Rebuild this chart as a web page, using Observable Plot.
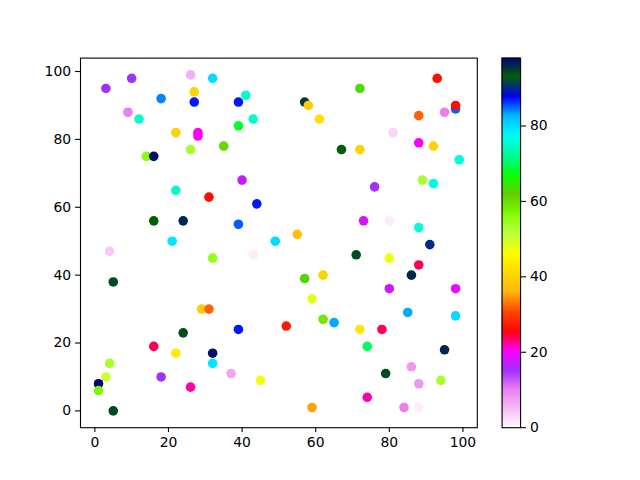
<!DOCTYPE html>
<html><head><meta charset="utf-8">
<script src="https://cdn.jsdelivr.net/npm/d3@7"></script>
<script src="https://cdn.jsdelivr.net/npm/@observablehq/plot@0.6"></script>
<style>
body{margin:0;background:#fff}
#fig{position:relative;width:640px;height:480px;background:#fff}
#fig svg{position:absolute;left:0;top:0}
</style>
</head><body><div id="fig"></div>
<script>
// Data (x, y, colour value)
const xs = [3,10,26,32,93,72,41,27,18,27,39,57,58,98,98,95,9,88,12,43,61,39,22,28,28,81,88,92,35,26,67,72,14,16,99,89,40,92,76,22,31,44,16,24,73,80,39,88,55,21,49,91,4,43,71,32,80,88,57,62,86,5,80,98,59,29,31,85,98,62,65,52,39,72,78,24,16,74,22,32,95,4,32,86,79,3,18,37,45,94,1,26,88,1,74,5,59,84,88];
const ys = [95,98,99,98,98,95,93,94,92,91,91,91,90,89,90,88,88,87,86,86,86,84,82,82,81,82,79,78,78,77,77,77,75,75,74,68,68,67,66,65,63,61,56,56,56,56,55,54,52,50,50,49,47,46,46,45,45,43,39,40,40,38,36,36,33,30,30,29,28,27,26,25,24,24,24,23,19,19,17,17,18,14,14,13,11,10,10,11,9,9,8,7,8,6,4,0,1,1,1];
const cs = [15,15,6,80,26,63,75,40,84,87,87,95,39,85,26,10,10,32,75,75,42,68,40,20,20,3,20,40,61,53,93,40,56,97,76,53,17,76,15,75,26,87,93,96,18,1,85,76,37,79,80,90,4,1,94,55,47,24,63,40,96,94,17,19,48,39,32,83,80,59,83,27,87,43,24,94,24,70,44,97,96,53,79,8,94,50,15,7,47,53,98,22,8,57,22,94,35,10,1];
const xTicks = [0,20,40,60,80,100];
const yTicks = [0,20,40,60,80,100];
const cTicks = [0,20,40,60,80];
const cMax = 98;

const data = xs.map((x,i)=>({x, y: ys[i], c: cs[i]}));

// matplotlib gist_ncar segment data (reversed for gist_ncar_r)
const R = [[0,0],[0.3098,0],[0.3725,0.3993],[0.4235,0.5003],[0.5333,1],[0.7922,1],[0.8471,0.6218],[0.8980,0.9235],[1,0.9961]];
const G = [[0,0],[0.0510,0.3722],[0.1059,0],[0.1569,0.7202],[0.1608,0.7537],[0.1647,0.7752],[0.2157,1],[0.2588,0.9804],[0.2706,0.9804],[0.3176,1],[0.3686,0.8081],[0.4275,1],[0.5216,1],[0.6314,0.7292],[0.6863,0.2796],[0.7451,0],[0.7922,0],[0.8431,0.1753],[0.8980,0.5],[1,0.9725]];
const B = [[0,0.502],[0.0510,0.0222],[0.1098,1],[0.2039,1],[0.2627,0.6145],[0.3216,0],[0.4157,0],[0.4745,0.2342],[0.5333,0],[0.5804,0],[0.6314,0.0549],[0.6902,0],[0.7373,0],[0.7922,0.9738],[0.8,1],[0.8431,1],[0.8980,0.9341],[1,0.9961]];
function lin(p,t){for(let i=1;i<p.length;i++){if(t<=p[i][0]){const [x0,y0]=p[i-1],[x1,y1]=p[i];return y0+(y1-y0)*(t-x0)/(x1-x0);}}return p[p.length-1][1];}
function gistNcarR(t){const u=1-Math.max(0,Math.min(1,t));return d3.rgb(255*lin(R,u),255*lin(G,u),255*lin(B,u)).formatHex();}

const colorScale = {type:"linear", domain:[0,cMax], interpolate: gistNcarR};
const font = {fontFamily:"DejaVu Sans", fontSize:"13.9px", color:"black"};

const main = Plot.plot({
  width:640, height:480,
  marginLeft:80, marginRight:163.2, marginTop:57.6, marginBottom:52.8,
  style:{...font, background:"white"},
  x:{domain:[-3.9,103.9]},
  y:{domain:[-4.95,103.95]},
  color: colorScale,
  marks:[
    Plot.dot(data,{x:"x", y:"y", fill:"c", r:4.8, stroke:null}),
    Plot.frame({stroke:"black", strokeWidth:1.1}),
    Plot.axisX({ticks:xTicks, tickSize:4.9, tickPadding:4.5, label:null, strokeWidth:1.1}),
    Plot.axisY({ticks:yTicks, tickSize:4.9, tickPadding:4.5, label:null, strokeWidth:1.1})
  ]
});

const step = cMax/256;
const bands = d3.range(256).map(i=>({y1:i*step, y2:Math.min(cMax,(i+1.6)*step), v:(i+0.5)*step}));
const cbar = Plot.plot({
  width:640, height:480,
  marginLeft:501.6, marginRight:119.9, marginTop:57.6, marginBottom:52.8,
  style:{...font, background:"transparent"},
  x:{domain:[0,1], axis:null},
  y:{domain:[0,cMax]},
  color: colorScale,
  marks:[
    Plot.rect(bands,{x1:0, x2:1, y1:"y1", y2:"y2", fill:"v"}),
    Plot.frame({stroke:"black", strokeWidth:1.1}),
    Plot.axisY({anchor:"right", ticks:cTicks, tickSize:4.9, tickPadding:4.5, label:null, strokeWidth:1.1})
  ]
});

const fig = document.getElementById("fig");
fig.appendChild(main);
fig.appendChild(cbar);
</script></body></html>
